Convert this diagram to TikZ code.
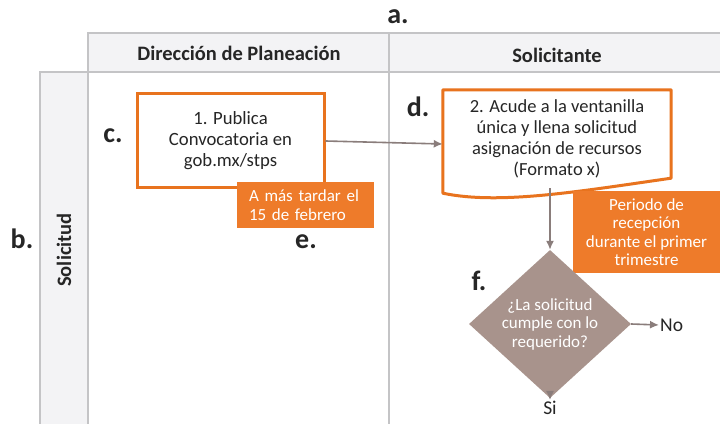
\documentclass[tikz,border=0pt]{standalone}
\usepackage{fontspec}
\setmainfont{Carlito}
\usetikzlibrary{shapes.geometric,arrows.meta,calc}
\definecolor{lanegray}{HTML}{C4C4C6}
\definecolor{lanefill}{HTML}{F3F3F5}
\definecolor{orangeb}{HTML}{E8731E}
\definecolor{orangef}{HTML}{EE7B2A}
\definecolor{diafill}{HTML}{A8938C}
\definecolor{arrowc}{HTML}{8A7D7B}
\definecolor{txt}{HTML}{262626}
\begin{document}
\begin{tikzpicture}[x=1pt,y=1pt,
  lane/.style={draw=lanegray,line width=1.2pt,fill=lanefill},
  lanetitle/.style={font=\fontsize{20.5}{22}\selectfont\bfseries,text=txt},
  letter/.style={font=\fontsize{28}{30}\selectfont\bfseries,text=txt},
  stepbox/.style={draw=orangeb,line width=3pt,fill=white,align=center,
    font=\fontsize{18.7}{21}\selectfont,text=txt,inner sep=0pt},
  note/.style={fill=orangef,text=white,inner sep=0pt,
    font=\fontsize{17}{18.5}\selectfont},
  decision/.style={diamond,fill=diafill,text=white,align=center,inner sep=0pt,
    font=\fontsize{17}{18.5}\selectfont},
  flow/.style={draw=arrowc,line width=1.6pt,-{Latex[length=9pt,width=8pt]}},
  endlabel/.style={font=\fontsize{19.5}{20}\selectfont,text=txt,inner sep=1pt}]
\useasboundingbox (0,0) rectangle (720,423);
% lanes
\fill[white] (0,0) rectangle (720,423);
\draw[lane] (88,351) rectangle (730,390);
\draw[lane] (40,-5) rectangle (88,351);
\draw[draw=lanegray,line width=1.2pt] (88,351) -- (88,-5);
\draw[draw=lanegray,line width=1.2pt] (389,390) -- (389,-5);
\node[lanetitle] (h1) at (239,370) {Dirección de Planeación};
\node[lanetitle] (h2) at (557,368) {Solicitante};
\node[lanetitle,rotate=90] (lane1) at (64,173) {Solicitud};
% letters
\node[letter] (la) at (398,406) {a.};
\node[letter] (lb) at (22,184) {b.};
\node[letter] (lc) at (113,287) {c.};
\node[letter] (ld) at (418,316) {d.};
\node[letter] (le) at (306,181) {e.};
\node[letter] (lf) at (479,142) {f.};
% step 1
\node[stepbox,minimum width=187pt,minimum height=94pt] (b1) at (230.5,282)
  {1. Publica\\Convocatoria en\\gob.mx/stps};
\node[note,minimum width=137pt,minimum height=46pt,text width=113pt,align=left] (n1)
  at (305.5,218) {A más tardar el\\15 de febrero};
% step 2 (document)
\node[inner sep=0pt,minimum width=228pt,minimum height=98pt] (b2) at (557,284) {};
\draw[draw=orangeb,line width=3pt,fill=white,line join=round]
  (b2.north west) -- (b2.north east) -- ($(b2.south east)+(0,10)$)
  .. controls ($(b2.south east)+(-91,-3)$) and ($(b2.south west)+(57,-17)$) ..
  ($(b2.south west)+(0,-5)$) -- cycle;
\node[align=center,font=\fontsize{18.5}{21}\selectfont,text=txt] (b2t) at (b2.center)
  {2. Acude a la ventanilla\\única y llena solicitud\\asignación de recursos\\(Formato x)};
\node[note,minimum width=147pt,minimum height=82pt,align=center] (n2)
  at (646.5,191) {Periodo de\\recepción\\durante el primer\\trimestre};
% decision
\node[decision,minimum width=162pt,minimum height=104pt] (dia) at (550,99)
  {¿La solicitud\\cumple con lo\\requerido?};
\node[endlabel,anchor=west] (no) at (659,98) {No};
\node[endlabel,anchor=north] (si) at (550,23) {Si};
% connectors
\draw[flow] (b1.east) -- ([yshift=-5pt]b2.west);
\draw[flow] (dia.north |- b2.south) -- (dia.north);
\draw[flow] (dia.east) -- (no.west);
\draw[flow] (dia.south) -- (si.north);
\end{tikzpicture}
\end{document}
